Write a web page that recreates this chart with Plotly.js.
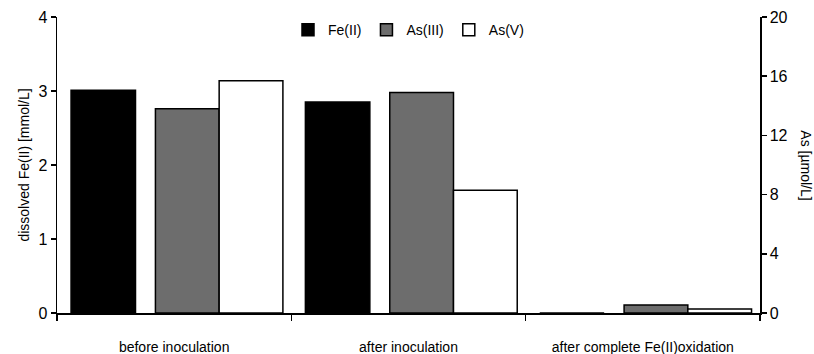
<!DOCTYPE html>
<html>
<head>
<meta charset="utf-8">
<script src="https://cdn.plot.ly/plotly-3.0.1.min.js"></script>
<style>html,body{margin:0;padding:0;background:#fff;}#chart{width:814px;height:354px;}</style>
</head>
<body>
<div id="chart"></div>
<script>
// Data
const categories = ["before inoculation", "after inoculation", "after complete Fe(II)oxidation"];
const feII = [3.01, 2.85, 0];        // dissolved Fe(II) [mmol/L] (left axis)
const asIII = [13.8, 14.9, 0.54];    // As(III) [µmol/L] (right axis)
const asV = [15.7, 8.3, 0.27];       // As(V) [µmol/L] (right axis)
const yLeftTicks = [0, 1, 2, 3, 4];
const yRightTicks = [0, 4, 8, 12, 16, 20];

const FONT = "Liberation Sans, Arial, sans-serif";
const lineStyle = {color: "#000", width: 1.5};

const traces = [
  {type: "bar", name: "Fe(II)", x: categories, y: feII, yaxis: "y",
   offset: -0.44, width: 0.275,
   marker: {color: "#000000", line: lineStyle}},
  {type: "bar", name: "As(III)", x: categories, y: asIII, yaxis: "y2",
   offset: -0.08, width: 0.272,
   marker: {color: "#6d6d6d", line: lineStyle}},
  {type: "bar", name: "As(V)", x: categories, y: asV, yaxis: "y2",
   offset: 0.192, width: 0.272,
   marker: {color: "#ffffff", line: lineStyle}}
];

const layout = {
  width: 814, height: 354,
  margin: {l: 57, r: 54, t: 17, b: 41},
  paper_bgcolor: "#fff", plot_bgcolor: "#fff",
  font: {family: FONT, size: 14, color: "#000"},
  barmode: "overlay",
  showlegend: true,
  legend: {orientation: "h", x: 0.5, xanchor: "center", y: 1.01, yanchor: "top",
           font: {family: FONT, size: 14}, bgcolor: "rgba(0,0,0,0)", itemwidth: 30,
           traceorder: "normal"},
  xaxis: {type: "category", tickson: "boundaries", ticks: "outside", ticklen: 6,
          tickcolor: "#000", tickwidth: 1.5, showline: true, linecolor: "#000", linewidth: 1.5,
          showgrid: false, zeroline: false, ticklabelstandoff: 21,
          tickfont: {family: FONT, size: 14}, range: [-0.5, 2.5]},
  yaxis: {range: [0, 4], tickvals: yLeftTicks, ticks: "outside", ticklen: 5,
          tickcolor: "#000", tickwidth: 1.5, showline: true, linecolor: "#000", linewidth: 1.5,
          showgrid: false, zeroline: false, tickfont: {family: FONT, size: 16},
          title: {text: "dissolved Fe(II) [mmol/L]", font: {family: FONT, size: 14}, standoff: 5}},
  yaxis2: {range: [0, 20], tickvals: yRightTicks, overlaying: "y", side: "right",
           ticks: "outside", ticklen: 5, tickcolor: "#000", tickwidth: 1.5,
           showline: true, linecolor: "#000", linewidth: 1.5,
           showgrid: false, zeroline: false, tickfont: {family: FONT, size: 16}},
  annotations: [
    {text: "As [µmol/L]", xref: "paper", yref: "paper", x: 1.065, y: 0.5,
     textangle: 90, showarrow: false, font: {family: FONT, size: 14},
     xanchor: "center", yanchor: "middle"}
  ]
};

Plotly.newPlot("chart", traces, layout, {displayModeBar: false, staticPlot: true});
</script>
</body>
</html>
